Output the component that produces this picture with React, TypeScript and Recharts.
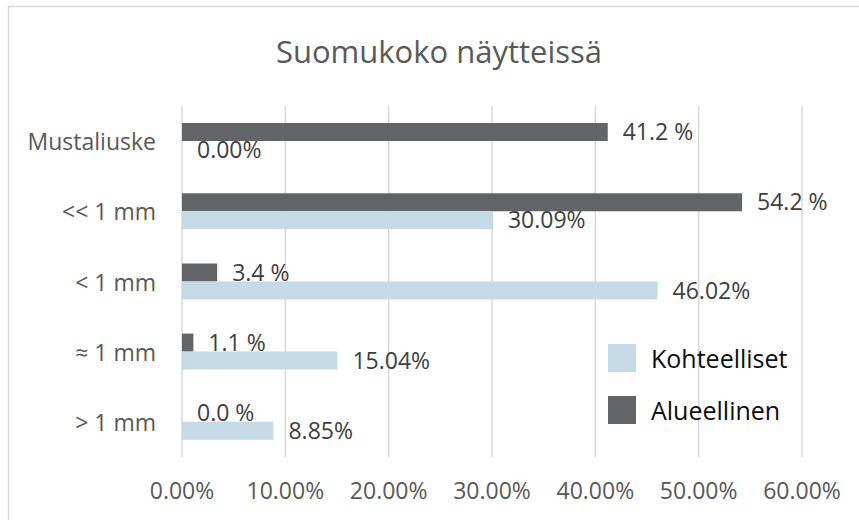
import { Bar, BarChart, CartesianGrid, LabelList, XAxis, YAxis } from 'recharts';

const categories = ['Mustaliuske', '<< 1 mm', '< 1 mm', '≈ 1 mm', '> 1 mm'];
const alueellinen = [41.2, 54.2, 3.4, 1.1, 0.0];
const kohteelliset = [0.0, 30.09, 46.02, 15.04, 8.85];
const xTicks = [0, 10, 20, 30, 40, 50, 60];

const FONT = '"Open Sans", sans-serif';
const DARK = '#636467';
const LIGHT = '#c5d9e7';

const chartData = categories.map((name, i) => ({
  name,
  alueellinen: alueellinen[i],
  kohteelliset: kohteelliset[i],
}));

const legendItems = [
  { label: 'Kohteelliset', color: LIGHT },
  { label: 'Alueellinen', color: DARK },
];

const XTick = ({ x = 0, y = 0, payload }: any) => (
  <text
    x={x}
    y={Number(y) + 33}
    textAnchor="middle"
    dominantBaseline="central"
    fontFamily={FONT}
    fontSize={23}
    fill="#595959"
  >
    {`${payload.value.toFixed(2)}%`}
  </text>
);

const YTick = ({ x = 0, y = 0, payload }: any) => (
  <text
    x={Number(x) - 26}
    y={y}
    textAnchor="end"
    dominantBaseline="central"
    fontFamily={FONT}
    fontSize={23}
    fill="#595959"
  >
    {payload.value}
  </text>
);

export default function App() {
  return (
    <div style={{ position: 'absolute', left: 0, top: 0, width: 859, height: 520, background: '#fff' }}>
      <svg
        width={859}
        height={520}
        style={{ position: 'absolute', left: 0, top: 0 }}
      >
        <rect x={8.5} y={6.5} width={900} height={600} fill="none" stroke="#d9d9d9" strokeWidth={1.5} />
        <text
          x={439}
          y={63}
          textAnchor="middle"
          fontFamily={FONT}
          fontSize={31}
          fill="#595959"
        >
          Suomukoko näytteissä
        </text>
      </svg>
      <div style={{ position: 'absolute', left: 0, top: 0 }}>
        <BarChart
          width={859}
          height={520}
          data={chartData}
          layout="vertical"
          margin={{ top: 106, right: 57, bottom: 0, left: 0 }}
          barSize={18}
          barGap={0}
        >
          <CartesianGrid horizontal={false} stroke="#d9d9d9" strokeWidth={1.5} />
          <XAxis
            type="number"
            domain={[0, 60]}
            ticks={xTicks}
            axisLine={false}
            tickLine={false}
            tickSize={0}
            tickMargin={0}
            height={63}
            tick={<XTick />}
            interval={0}
          />
          <YAxis
            type="category"
            dataKey="name"
            axisLine={false}
            tickLine={false}
            tickSize={0}
            tickMargin={0}
            width={182}
            tick={<YTick />}
            interval={0}
          />
          <Bar dataKey="alueellinen" name="Alueellinen" fill={DARK} minPointSize={0.01} isAnimationActive={false}>
            <LabelList
              dataKey="alueellinen"
              position="right"
              offset={15}
              fontFamily={FONT}
              fontSize={23}
              fill="#404040"
              formatter={(v: any) => `${Number(v).toFixed(1)} %`}
            />
          </Bar>
          <Bar dataKey="kohteelliset" name="Kohteelliset" fill={LIGHT} minPointSize={0.01} isAnimationActive={false}>
            <LabelList
              dataKey="kohteelliset"
              position="right"
              offset={15}
              fontFamily={FONT}
              fontSize={23}
              fill="#404040"
              formatter={(v: any) => `${Number(v).toFixed(2)}%`}
            />
          </Bar>
        </BarChart>
      </div>
      <div style={{ position: 'absolute', left: 608, top: 332, fontFamily: FONT }}>
        {legendItems.map((item) => (
          <div
            key={item.label}
            style={{ display: 'flex', alignItems: 'center', height: 52 }}
          >
            <span
              style={{
                display: 'inline-block',
                width: 28,
                height: 28,
                background: item.color,
                marginRight: 15,
              }}
            />
            <span style={{ fontSize: 25, color: '#0d0d0d' }}>{item.label}</span>
          </div>
        ))}
      </div>
    </div>
  );
}
